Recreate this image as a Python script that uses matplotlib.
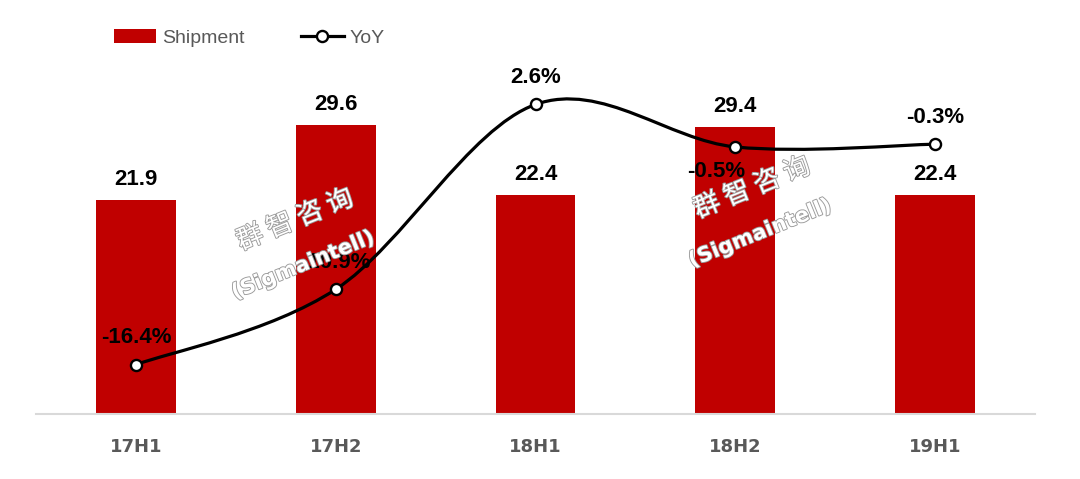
import numpy as np
import matplotlib
matplotlib.use('Agg')
import matplotlib.pyplot as plt
from matplotlib.path import Path
from matplotlib.patches import PathPatch, Patch
from matplotlib.lines import Line2D
import matplotlib.patheffects as pe

# data
periods = ['17H1', '17H2', '18H1', '18H2', '19H1']
shipment = [21.9, 29.6, 22.4, 29.4, 22.4]
yoy = [-16.4, -10.9, 2.6, -0.5, -0.3]

bar_color = '#C00000'

fig = plt.figure(figsize=(10.8, 4.79), dpi=100)
ax1 = fig.add_axes([36/1080, 1-414/479, 999/1080, (414-62)/479])
ax2 = ax1.twinx()

x = np.arange(len(periods))
ax1.bar(x, shipment, width=0.4, color=bar_color, zorder=2)
for xi, v in zip(x, shipment):
    ax1.text(xi, v + 1.0, '%.1f' % v, ha='center', va='bottom', fontsize=16,
             fontweight='bold', family='Liberation Sans', color='black')

ax1.set_xlim(-0.5, 4.5)
ax1.set_ylim(0, 36)
ax2.set_ylim(-20, 5.7)

# smooth line like excel: bezier with catmull-rom control points
xs = x.astype(float)
ys = np.array(yoy, dtype=float)
verts = [(xs[0], ys[0])]
codes = [Path.MOVETO]
n = len(xs)
for i in range(n - 1):
    p0 = (xs[max(i-1, 0)], ys[max(i-1, 0)])
    p1 = (xs[i], ys[i])
    p2 = (xs[i+1], ys[i+1])
    p3 = (xs[min(i+2, n-1)], ys[min(i+2, n-1)])
    c1 = (p1[0] + (p2[0]-p0[0])/6, p1[1] + (p2[1]-p0[1])/6)
    c2 = (p2[0] - (p3[0]-p1[0])/6, p2[1] - (p3[1]-p1[1])/6)
    verts += [c1, c2, p2]
    codes += [Path.CURVE4]*3
ax2.add_patch(PathPatch(Path(verts, codes), facecolor='none', edgecolor='black',
                        lw=2.3, zorder=3))
ax2.plot(xs, ys, linestyle='none', marker='o', markersize=8, markerfacecolor='white',
         markeredgecolor='black', markeredgewidth=1.7, zorder=4)

# yoy labels (offsets in points)
offs = [(0, 12), (0, 12), (0, 12), (-14, -10), (0, 12)]
for xi, v, (dx, dy) in zip(xs, ys, offs):
    ax2.annotate('%.1f%%' % v, (xi, v), xytext=(dx, dy), textcoords='offset points',
                 ha='center', va='bottom' if dy > 0 else 'top', fontsize=16,
                 fontweight='bold', family='Liberation Sans', color='black', zorder=5)

for ax in (ax1, ax2):
    for s in ['top', 'right', 'left', 'bottom']:
        ax.spines[s].set_visible(False)
    ax.set_yticks([])
ax1.spines['bottom'].set_visible(True)
ax1.spines['bottom'].set_color('#D9D9D9')
ax1.spines['bottom'].set_linewidth(1.5)
ax1.set_xticks(x)
ax1.set_xticklabels(periods, fontsize=13, fontweight='bold', color='#595959',
                    family='DejaVu Sans')
ax1.tick_params(axis='x', length=0, pad=17)

# watermark
wm = [pe.withStroke(linewidth=1.3, foreground='#9A9A9A')]
for cx, cy in [(295, 220), (752, 188)]:
    fig.text(cx/1080, 1-cy/479, '群 智 咨 询', fontsize=19, color='white',
             family=['Noto Sans CJK SC', 'DejaVu Sans'], rotation=22, ha='center', va='center',
             path_effects=wm, zorder=10)
    fig.text((cx+8)/1080, 1-(cy+45)/479, '(Sigmaintell)', fontsize=15, fontweight='bold',
             color='white', family='DejaVu Sans', rotation=22, ha='center', va='center',
             path_effects=wm, zorder=10)

# legend
handles = [Patch(facecolor=bar_color),
           Line2D([], [], color='black', lw=2.3, marker='o', markersize=8,
                  markerfacecolor='white', markeredgewidth=1.7)]
fig.legend(handles, ['Shipment', 'YoY'], loc='center left', bbox_to_anchor=(96/1080, 1-38/479),
           ncol=2, frameon=False, labelcolor='#595959', handlelength=2.2,
           columnspacing=2.9, handletextpad=0.3, prop={'family': 'Liberation Sans', 'size': 14})

fig.savefig('out.png', dpi=100)
